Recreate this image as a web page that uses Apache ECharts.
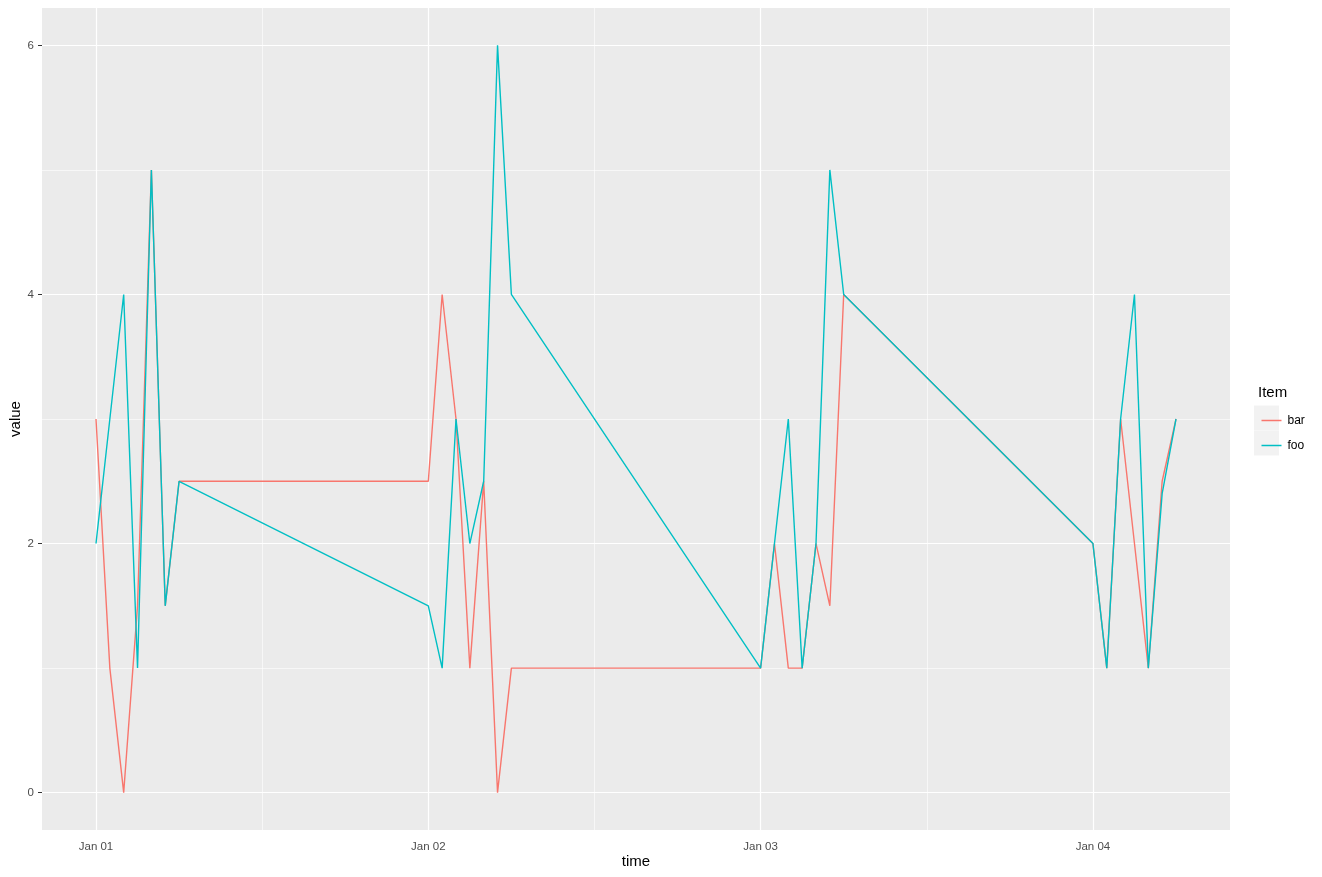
<!DOCTYPE html>
<html>
<head>
<meta charset="utf-8">
<script src="https://cdn.jsdelivr.net/npm/echarts@6/dist/echarts.min.js"></script>
<style>
  html, body { margin: 0; padding: 0; background: #ffffff; }
  #chart { width: 1322px; height: 877px; }
</style>
</head>
<body>
<div id="chart"></div>
<script>
// ---- data ----
const times = [
  '2021-01-01T00:00:00Z','2021-01-01T01:00:00Z','2021-01-01T02:00:00Z','2021-01-01T03:00:00Z','2021-01-01T04:00:00Z','2021-01-01T05:00:00Z','2021-01-01T06:00:00Z',
  '2021-01-02T00:00:00Z','2021-01-02T01:00:00Z','2021-01-02T02:00:00Z','2021-01-02T03:00:00Z','2021-01-02T04:00:00Z','2021-01-02T05:00:00Z','2021-01-02T06:00:00Z',
  '2021-01-03T00:00:00Z','2021-01-03T01:00:00Z','2021-01-03T02:00:00Z','2021-01-03T03:00:00Z','2021-01-03T04:00:00Z','2021-01-03T05:00:00Z','2021-01-03T06:00:00Z',
  '2021-01-04T00:00:00Z','2021-01-04T01:00:00Z','2021-01-04T02:00:00Z','2021-01-04T03:00:00Z','2021-01-04T04:00:00Z','2021-01-04T05:00:00Z','2021-01-04T06:00:00Z'
];
const barValues = [3, 1, 0, 1.5, 5, 1.5, 2.5,  2.5, 4, 3, 1, 2.5, 0, 1,  1, 2, 1, 1, 2, 1.5, 4,  2, 1, 3, 2, 1, 2.5, 3];
const fooValues = [2, 3, 4, 1, 5, 1.5, 2.5,  1.5, 1, 3, 2, 2.5, 6, 4,  1, 2, 3, 1, 2, 5, 4,  2, 1, 3, 4, 1, 2.4, 3];
const seriesNames = ['bar', 'foo'];
const xTickDates = ['2021-01-01T00:00:00Z','2021-01-02T00:00:00Z','2021-01-03T00:00:00Z','2021-01-04T00:00:00Z'];
const xMinorDates = ['2021-01-01T12:00:00Z','2021-01-02T12:00:00Z','2021-01-03T12:00:00Z'];
const yTicks = [0, 2, 4, 6];
const yMinor = [1, 3, 5];
const monthNames = ['Jan','Feb','Mar','Apr','May','Jun','Jul','Aug','Sep','Oct','Nov','Dec'];

// ---- build ----
const ts = times.map(t => Date.parse(t));
const tMin = Math.min(...ts), tMax = Math.max(...ts);
const xPad = (tMax - tMin) * 0.05;
const allVals = barValues.concat(fooValues);
const vMin = Math.min(...allVals), vMax = Math.max(...allVals);
const yPad = (vMax - vMin) * 0.05;
const xTicks = xTickDates.map(d => Date.parse(d));
const xMinor = xMinorDates.map(d => Date.parse(d));

const FONT = 'Liberation Sans, Arial, Helvetica, sans-serif';
const colors = { bar: '#F8766D', foo: '#00BFC4' };

function fmtDate(v) {
  const d = new Date(v);
  const dd = String(d.getUTCDate()).padStart(2, '0');
  return monthNames[d.getUTCMonth()] + ' ' + dd;
}

const gridLines = [];
xTicks.forEach(v => gridLines.push({ xAxis: v, lineStyle: { width: 1.2 } }));
xMinor.forEach(v => gridLines.push({ xAxis: v, lineStyle: { width: 0.6 } }));
yTicks.forEach(v => gridLines.push({ yAxis: v, lineStyle: { width: 1.2 } }));
yMinor.forEach(v => gridLines.push({ yAxis: v, lineStyle: { width: 0.6 } }));

const chart = echarts.init(document.getElementById('chart'), null, { renderer: 'canvas' });
chart.setOption({
  animation: false,
  backgroundColor: '#ffffff',
  textStyle: { fontFamily: FONT },
  title: {
    text: 'Item',
    left: 1253,
    top: 380,
    textStyle: { fontFamily: FONT, fontSize: 15, fontWeight: 'normal', color: '#000000' }
  },
  legend: {
    data: seriesNames,
    orient: 'vertical',
    left: 1256.5,
    top: 403,
    itemWidth: 20,
    itemHeight: 1.5,
    itemGap: 0,
    icon: 'rect',
    textStyle: { fontFamily: FONT, fontSize: 12, color: '#000000', lineHeight: 25, padding: [0, 0, 0, 1] }
  },
  graphic: [
    { type: 'rect', left: 1254, top: 405.5, z: -1, shape: { width: 25, height: 25 }, style: { fill: '#F2F2F2' } },
    { type: 'rect', left: 1254, top: 430.5, z: -1, shape: { width: 25, height: 25 }, style: { fill: '#F2F2F2' } }
  ],
  grid: {
    left: 42, right: 92, top: 8, bottom: 47,
    containLabel: false,
    outerBoundsMode: 'none',
    show: true, backgroundColor: '#EBEBEB', borderWidth: 0
  },
  xAxis: {
    type: 'value',
    min: tMin - xPad,
    max: tMax + xPad,
    name: 'time',
    nameLocation: 'middle',
    nameGap: 24,
    nameMoveOverlap: false,
    nameTextStyle: { fontFamily: FONT, fontSize: 15, color: '#000000' },
    axisLine: { show: false },
    axisTick: { show: true, length: 4, customValues: xTicks, lineStyle: { color: '#333333', width: 1 } },
    axisLabel: { customValues: xTicks, formatter: fmtDate, margin: 11, fontFamily: FONT, fontSize: 11.5, color: '#4D4D4D' },
    splitLine: { show: false },
    minorSplitLine: { show: false }
  },
  yAxis: {
    type: 'value',
    min: vMin - yPad,
    max: vMax + yPad,
    name: 'value',
    nameLocation: 'middle',
    nameGap: 19,
    nameMoveOverlap: false,
    nameRotate: 90,
    nameTextStyle: { fontFamily: FONT, fontSize: 15, color: '#000000' },
    axisLine: { show: false },
    axisTick: { show: true, length: 4, customValues: yTicks, lineStyle: { color: '#333333', width: 1 } },
    axisLabel: { customValues: yTicks, margin: 8, fontFamily: FONT, fontSize: 11.5, color: '#4D4D4D' },
    splitLine: { show: false }
  },
  series: [
    {
      name: '__grid',
      type: 'line',
      z: 1,
      data: [],
      silent: true,
      markLine: {
        z: 1,
        silent: true,
        symbol: 'none',
        animation: false,
        label: { show: false },
        emphasis: { disabled: true },
        lineStyle: { color: '#ffffff', type: 'solid' },
        data: gridLines
      }
    },
    {
      name: 'bar',
      type: 'line',
      z: 3,
      symbol: 'none',
      color: colors.bar,
      lineStyle: { color: colors.bar, width: 1.4 },
      data: ts.map((t, i) => [t, barValues[i]])
    },
    {
      name: 'foo',
      type: 'line',
      z: 4,
      symbol: 'none',
      color: colors.foo,
      lineStyle: { color: colors.foo, width: 1.4 },
      data: ts.map((t, i) => [t, fooValues[i]])
    }
  ]
});
</script>
</body>
</html>
